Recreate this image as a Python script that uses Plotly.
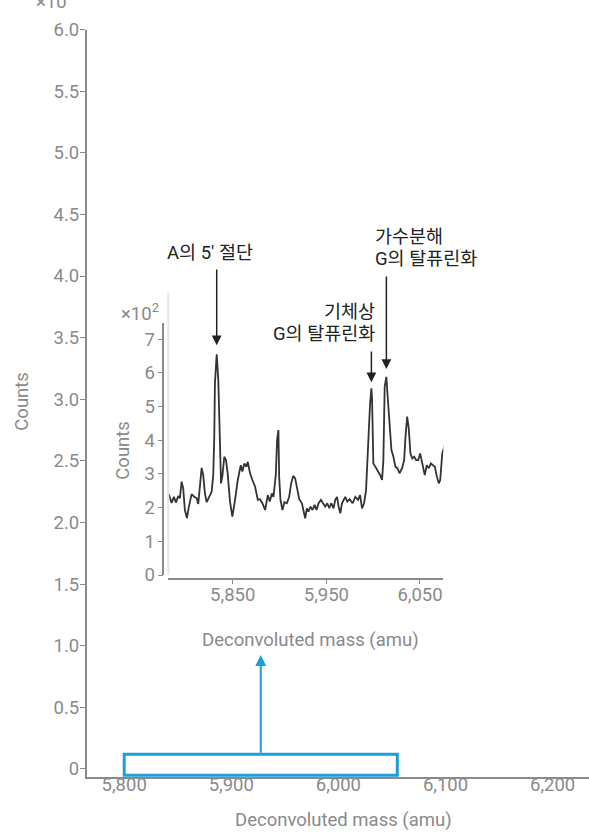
import plotly.graph_objects as go

# ---- data -------------------------------------------------------------
# zoomed deconvoluted spectrum (counts in units of 10^2)
mass = [5781.8, 5784.7, 5787.2, 5789.3, 5791.8, 5793.6, 5795.4, 5797.1, 5798.9, 5801.1,
        5803.2, 5806.1, 5808.9, 5811.5, 5813.2, 5815.0, 5816.8, 5818.5, 5820.3, 5822.2,
        5824.6, 5827.5, 5829.2, 5830.3, 5831.0, 5832.9, 5834.6, 5836.1, 5837.5, 5838.9,
        5841.0, 5842.8, 5844.6, 5847.1, 5849.6, 5852.5, 5855.4, 5858.6, 5860.3, 5862.4,
        5864.6, 5866.1, 5868.5, 5871.0, 5873.9, 5876.8, 5879.2, 5881.7, 5884.6, 5887.5,
        5889.6, 5891.8, 5893.5, 5896.0, 5897.4, 5898.8, 5899.6, 5901.0, 5903.1, 5905.2,
        5907.8, 5910.3, 5912.4, 5914.6, 5916.7, 5918.8, 5921.0, 5923.9, 5926.0, 5927.4,
        5929.2, 5930.9, 5933.1, 5935.2, 5937.4, 5939.5, 5941.7, 5944.2, 5946.4, 5948.8,
        5951.0, 5953.1, 5955.2, 5957.7, 5959.5, 5961.4, 5963.1, 5964.9, 5966.7, 5968.4,
        5970.2, 5972.4, 5974.8, 5978.1, 5980.9, 5983.8, 5986.0, 5988.1, 5990.3, 5992.4,
        5993.8, 5995.2, 5996.7, 5998.1, 5998.8, 6000.2, 6002.4, 6004.5, 6007.4, 6009.5,
        6010.9, 6012.3, 6014.1, 6015.5, 6017.3, 6019.5, 6021.6, 6023.8, 6025.9, 6028.1,
        6030.9, 6033.1, 6034.5, 6036.3, 6038.0, 6039.8, 6041.7, 6043.8, 6045.9, 6048.1,
        6050.2, 6051.6, 6053.0, 6055.1, 6057.3, 6059.4, 6061.6, 6063.7, 6065.9, 6068.0,
        6070.1, 6071.6, 6073.8, 6075.9, 6077.3]
counts = [2.40, 2.14, 2.32, 2.15, 2.34, 2.28, 2.77, 2.58, 1.93, 1.69,
          2.03, 2.40, 2.32, 2.28, 2.11, 2.62, 3.18, 2.97, 2.42, 2.16,
          2.32, 2.47, 2.97, 4.10, 5.70, 6.55, 5.79, 4.50, 2.72, 2.92,
          3.51, 3.41, 3.02, 2.18, 1.73, 2.23, 2.82, 3.26, 3.07, 3.31,
          3.21, 3.36, 3.02, 2.82, 2.62, 2.23, 2.25, 2.13, 1.93, 2.37,
          2.18, 2.42, 2.32, 2.97, 4.01, 4.30, 2.92, 2.23, 1.93, 2.16,
          2.13, 2.32, 2.72, 2.94, 2.87, 2.57, 2.25, 2.13, 1.83, 1.68,
          1.98, 1.88, 2.03, 1.93, 2.08, 1.93, 2.13, 2.23, 2.13, 2.03,
          2.13, 1.98, 2.13, 1.98, 2.23, 2.32, 2.03, 1.83, 2.13, 2.23,
          2.32, 2.18, 2.25, 2.13, 2.32, 2.23, 2.37, 1.98, 2.13, 2.52,
          3.21, 4.20, 5.09, 5.54, 5.24, 3.31, 3.21, 3.12, 2.97, 2.82,
          3.41, 5.59, 5.88, 5.29, 4.40, 3.71, 3.51, 3.21, 3.17, 3.02,
          3.17, 3.41, 4.10, 4.70, 4.35, 3.61, 3.46, 3.51, 3.41, 3.41,
          3.61, 3.41, 3.21, 2.97, 3.26, 3.17, 3.31, 3.26, 3.21, 2.92,
          2.72, 2.82, 3.61, 3.81, 3.96]

# main axes ticks
main_x_ticks = [5800, 5900, 6000, 6100, 6200]
main_x_labels = ["5,800", "5,900", "6,000", "6,100", "6,200"]
main_y_ticks = [0, 0.5, 1.0, 1.5, 2.0, 2.5, 3.0, 3.5, 4.0, 4.5, 5.0, 5.5, 6.0]
main_y_labels = ["0", "0.5", "1.0", "1.5", "2.0", "2.5", "3.0", "3.5", "4.0",
                 "4.5", "5.0", "5.5", "6.0"]

# inset ticks
inset_x_ticks = [5850, 5950, 6050]
inset_x_labels = ["5,850", "5,950", "6,050"]
inset_y_ticks = [0, 1, 2, 3, 4, 5, 6, 7]

# zoom window on the main axes and peak annotations
zoom_window = dict(x0=5800, x1=6055, y0=-0.05, y1=0.12)
peak_mass = [5832.9, 5998.1, 6014.1]
peak_counts = [6.55, 5.54, 5.88]
peak_text = [["A의 5′ 절단"], ["기체상", "G의 탈퓨린화"], ["가수분해", "G의 탈퓨린화"]]

# ---- figure -----------------------------------------------------------
W, H = 589, 833
GRAY = "#8a8a8a"
INK = "#222222"
BLUE = "#1a9fdb"
FONT = "Roboto, Noto Sans CJK KR, sans-serif"
FS = 18.5

# inset y scale: pixels per unit and pixel row of zero (for arrow layout)
INSET_Y0_PX, INSET_Y_TOP_PX, INSET_Y_MAX = 575, 323, 7.48
PX_PER_UNIT = (INSET_Y0_PX - INSET_Y_TOP_PX) / INSET_Y_MAX


def px(x):
    return x / W


def py(y):
    return 1 - y / H


def inset_y(row):
    return (INSET_Y0_PX - row) / PX_PER_UNIT


fig = go.Figure()

# invisible trace to hold the main axes
fig.add_trace(go.Scatter(x=[5800], y=[0], mode="markers",
                         marker=dict(opacity=0), hoverinfo="skip",
                         showlegend=False, xaxis="x", yaxis="y"))

fig.add_trace(go.Scatter(x=mass, y=counts, mode="lines",
                         line=dict(color="#333333", width=1.8),
                         showlegend=False, xaxis="x2", yaxis="y2"))

axis_common = dict(showgrid=False, zeroline=False, showline=True,
                   linecolor=GRAY, linewidth=1.5, automargin=False,
                   tickfont=dict(family=FONT, size=FS, color=GRAY),
                   tickcolor=GRAY, tickwidth=1.2)

fig.update_layout(
    width=W, height=H,
    margin=dict(l=0, r=0, t=0, b=0),
    paper_bgcolor="white", plot_bgcolor="rgba(0,0,0,0)",
    xaxis=dict(axis_common, domain=[px(86.7), 1], range=[5765, 6234],
               tickvals=main_x_ticks, ticktext=main_x_labels, ticks="",
               anchor="y", ticklabelstandoff=-10),
    yaxis=dict(axis_common, domain=[py(777), py(29.5)], range=[-0.065, 6.0],
               tickvals=main_y_ticks, ticktext=main_y_labels,
               ticks="outside", ticklen=5, anchor="x", ticklabelstandoff=-3),
    xaxis2=dict(axis_common, domain=[px(168.3), px(443.3)],
                range=[5781.2, 6074.9], tickvals=inset_x_ticks,
                ticktext=inset_x_labels, ticks="outside", ticklen=4,
                anchor="free", position=py(579), ticklabelstandoff=-5),
    yaxis2=dict(axis_common, domain=[py(INSET_Y0_PX), py(INSET_Y_TOP_PX)],
                range=[0, INSET_Y_MAX], tickvals=inset_y_ticks, ticks="outside",
                ticklen=5, anchor="free", position=px(163.3),
                ticklabelstandoff=-1),
)

# faint left edge of the inset panel
fig.add_shape(type="line", xref="paper", yref="paper",
              x0=px(168.3), x1=px(168.3), y0=py(293), y1=py(575),
              line=dict(color="#e6e6e6", width=2))

# zoom window box on the main axes
fig.add_shape(type="rect", xref="x", yref="y", **zoom_window,
              line=dict(color=BLUE, width=3), fillcolor="rgba(0,0,0,0)")

annotations = []

# blue arrow from the zoom window up to the inset
arrow_mass = (zoom_window["x0"] + zoom_window["x1"]) / 2
annotations.append(dict(x=arrow_mass, y=(769 - 655) / 123.25, xref="x", yref="y",
                        ax=arrow_mass, ay=zoom_window["y1"], axref="x", ayref="y",
                        text="", showarrow=True, arrowhead=2, arrowsize=1.1,
                        arrowwidth=2, arrowcolor=BLUE))

# black arrows pointing down at the labelled peaks
arrow_tail_rows = [268, 350, 275]
arrow_gap_px = [9, 6, 8]
for m, c, tail, gap in zip(peak_mass, peak_counts, arrow_tail_rows, arrow_gap_px):
    tip = c + gap / PX_PER_UNIT
    annotations.append(dict(x=m, y=tip, xref="x2", yref="y2",
                            ax=m, ay=inset_y(tail), axref="x2", ayref="y2",
                            text="", showarrow=True, arrowhead=2, arrowsize=1.3,
                            arrowwidth=1.5, arrowcolor=INK, standoff=0))

# peak label lines: (x, anchor, first row)
text_font = dict(family=FONT, size=FS, color=INK)
label_layout = [(210, "center", 253), (377, "right", 311.7), (373, "left", 236.7)]
LINE_STEP = 22.5
for lines, (xpos, anchor, row0) in zip(peak_text, label_layout):
    for i, line in enumerate(lines):
        annotations.append(dict(text=line, x=px(xpos), y=py(row0 + i * LINE_STEP),
                                xref="paper", yref="paper", xanchor=anchor,
                                yanchor="middle", showarrow=False, font=text_font))

gray_text = dict(showarrow=False, font=dict(family=FONT, size=FS, color=GRAY),
                 xref="paper", yref="paper")
annotations += [
    dict(text="Deconvoluted mass (amu)", x=px(343), y=py(820),
         xanchor="center", yanchor="middle", **gray_text),
    dict(text="Counts", x=px(21.7), y=py(401), textangle=-90,
         xanchor="center", yanchor="middle", **gray_text),
    dict(text="×10<sup>4</sup>", x=px(76), y=py(15), xanchor="right",
         yanchor="bottom", **gray_text),
    dict(text="Deconvoluted mass (amu)", x=px(310), y=py(640),
         xanchor="center", yanchor="middle", **gray_text),
    dict(text="Counts", x=px(122.7), y=py(450), textangle=-90,
         xanchor="center", yanchor="middle", **gray_text),
    dict(text="×10<sup>2</sup>", x=px(140), y=py(313),
         xanchor="center", yanchor="middle", **gray_text),
]

fig.update_layout(annotations=annotations)

fig.write_html("out.html")
